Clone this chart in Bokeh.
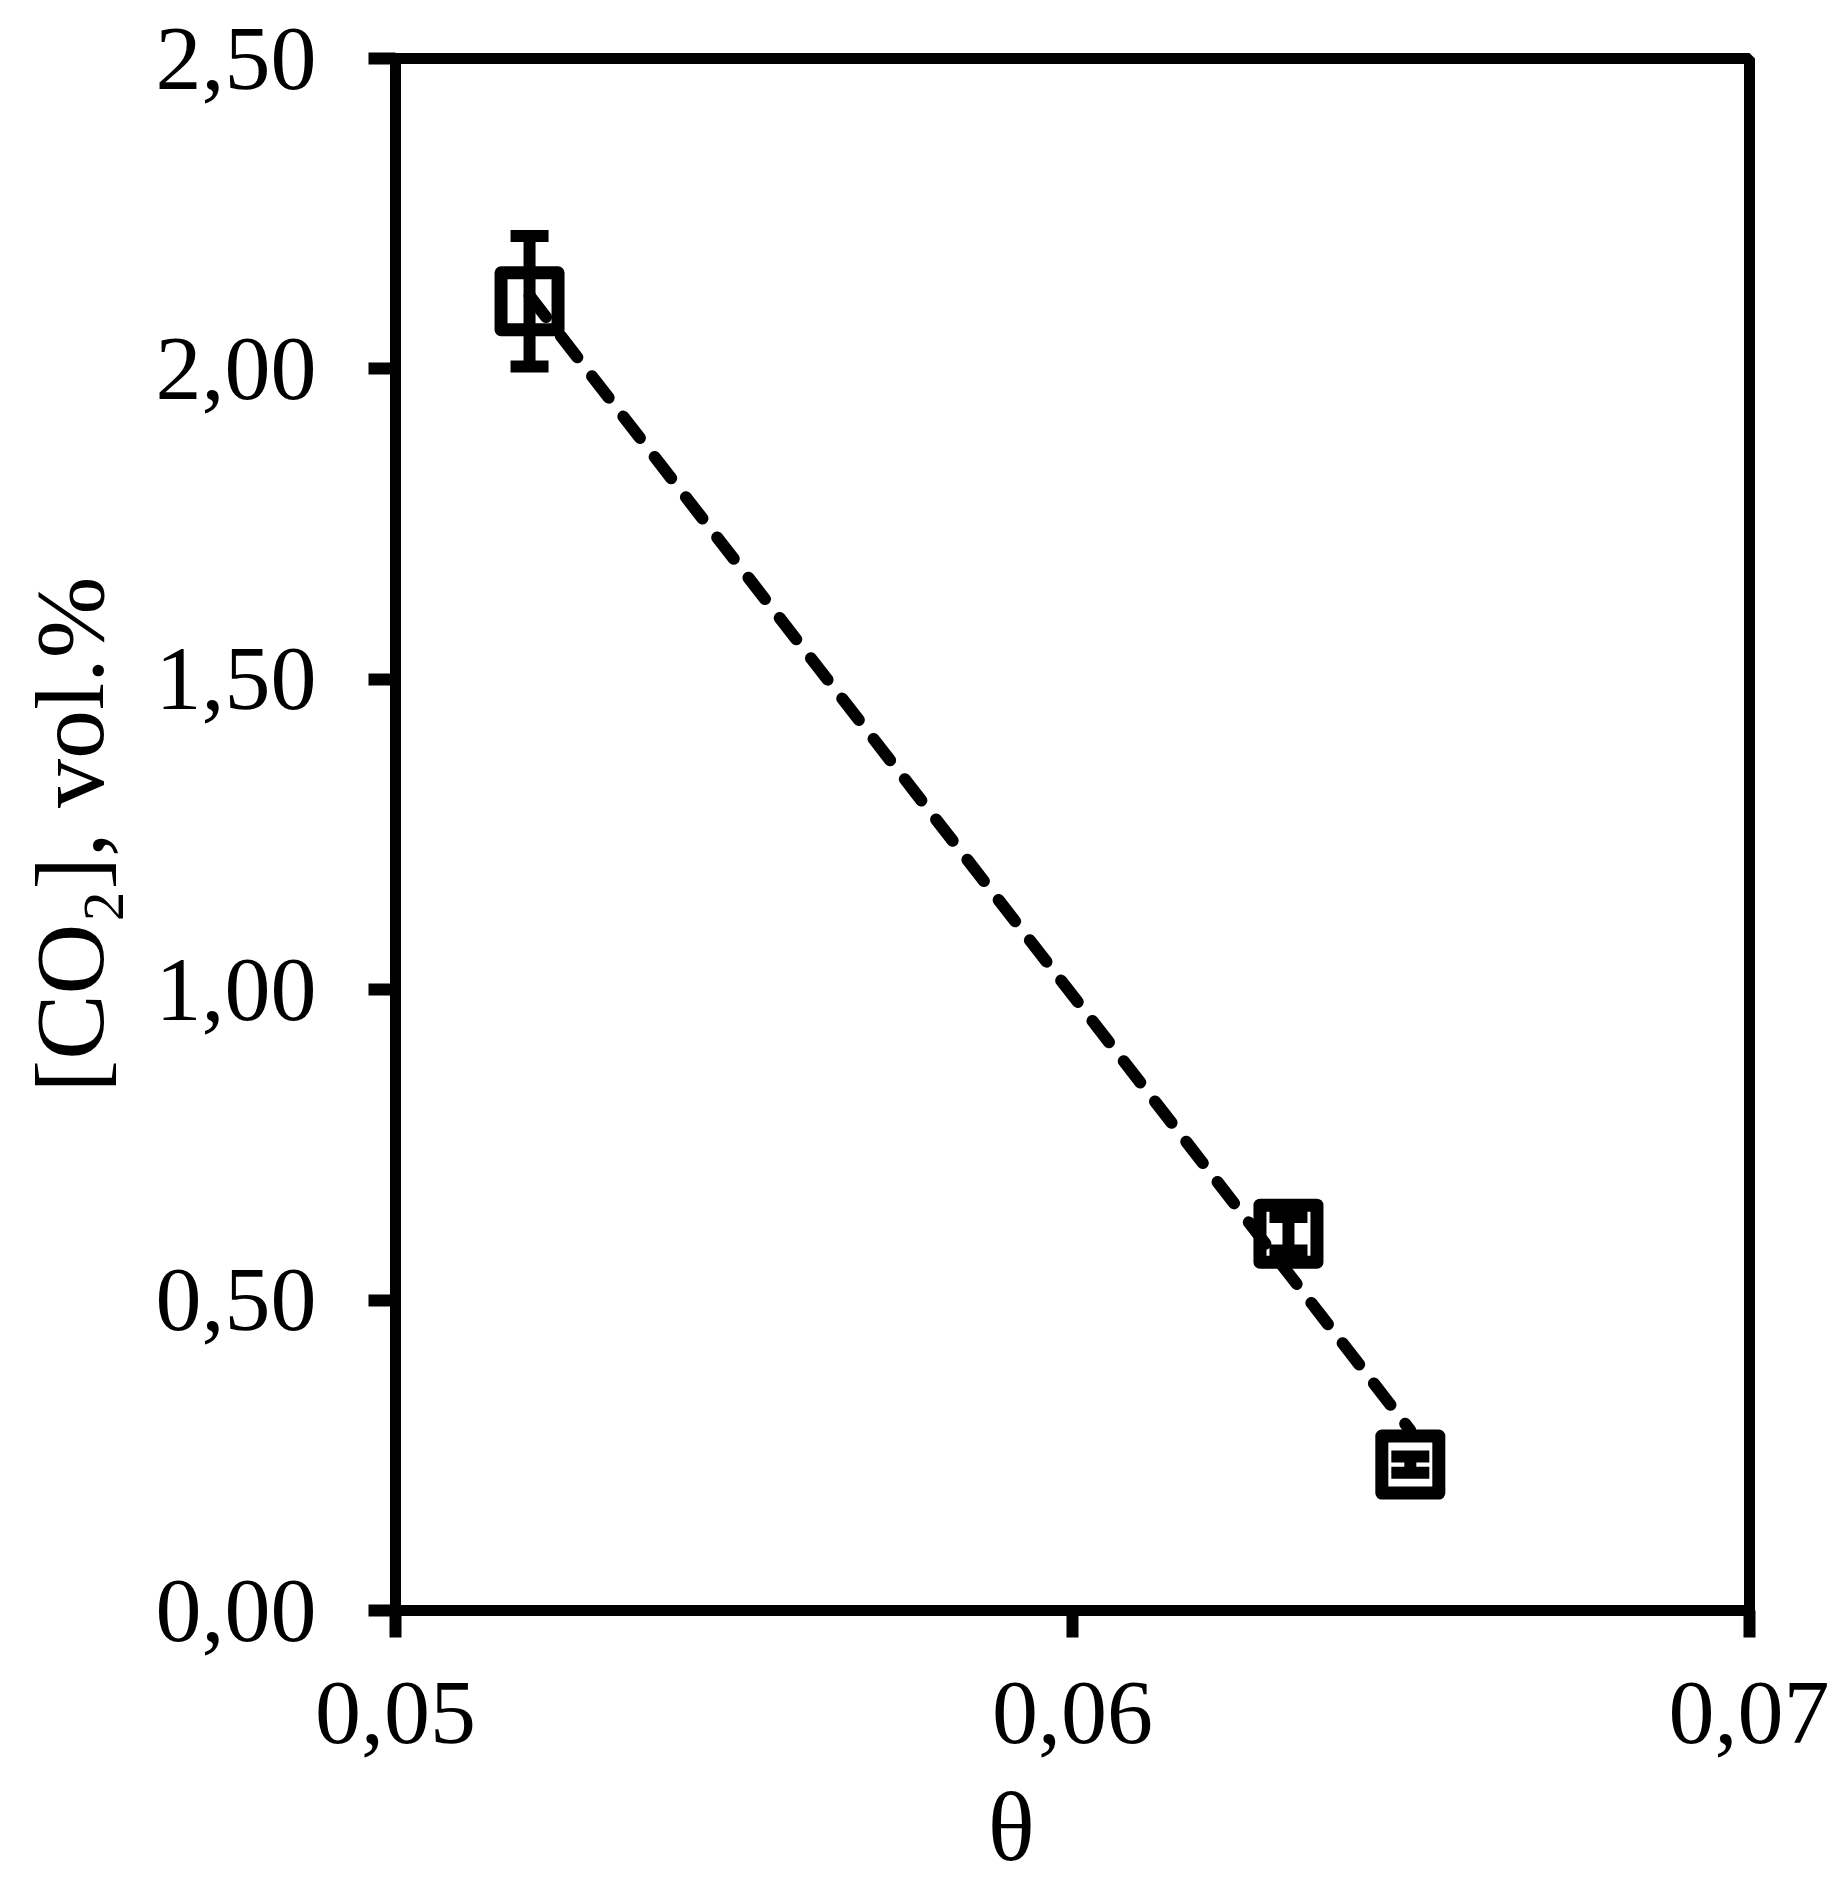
import numpy as np
from bokeh.plotting import figure
from bokeh.models import (ColumnDataSource, Whisker, TeeHead, FixedTicker,
                          CustomJSTickFormatter)
from bokeh.embed import file_html
from bokeh.resources import INLINE

# ---- data ----
theta = [0.05198, 0.06319, 0.06499]
co2 = [2.109, 0.607, 0.235]
co2_err = [0.105, 0.027, 0.013]

x_ticks = [0.05, 0.06, 0.07]
x_tick_labels = ["0,05", "0,06", "0,07"]
y_ticks = [0.0, 0.5, 1.0, 1.5, 2.0, 2.5]
y_tick_labels = ["0,00", "0,50", "1,00", "1,50", "2,00", "2,50"]

x_title = "θ"
y_title = "[CO₂], vol.%"

FONT = "Liberation Serif"

p = figure(frame_width=1354, frame_height=1552,
           x_range=(0.05, 0.07), y_range=(0.0, 2.5),
           min_border_left=395, min_border_top=58,
           min_border_right=80, min_border_bottom=262,
           output_backend="svg", toolbar_location=None,
           background_fill_color="white", border_fill_color="white")

p.grid.visible = False
p.outline_line_color = "black"
p.outline_line_width = 11

def fmt(vals, labels):
    return CustomJSTickFormatter(args=dict(vals=vals, labels=labels), code="""
        for (let i = 0; i < vals.length; i++) {
            if (Math.abs(vals[i] - tick) < 1e-9) return labels[i];
        }
        return "";
    """)

for ax, ticks, labels, standoff in ((p.xaxis[0], x_ticks, x_tick_labels, 45),
                                    (p.yaxis[0], y_ticks, y_tick_labels, 52)):
    ax.ticker = FixedTicker(ticks=ticks)
    ax.formatter = fmt(ticks, labels)
    ax.axis_line_width = 11
    ax.axis_line_color = "black"
    ax.major_tick_line_width = 12
    ax.major_tick_line_color = "black"
    ax.major_tick_out = 27
    ax.major_tick_in = 0
    ax.minor_tick_line_color = None
    ax.major_label_text_font = FONT
    ax.major_label_text_font_size = "92px"
    ax.major_label_text_color = "black"
    ax.major_label_standoff = standoff
    ax.axis_label_text_font = FONT
    ax.axis_label_text_font_size = "98px"
    ax.axis_label_text_font_style = "normal"
    ax.axis_label_text_color = "black"

# x title sits left of centre in the original: pad with no-break spaces
p.xaxis[0].axis_label = x_title + "\u00a0" * 5
p.xaxis[0].axis_label_standoff = 27
p.yaxis[0].axis_label = y_title
p.yaxis[0].axis_label_standoff = 29

src = ColumnDataSource(dict(x=theta, y=co2,
                            lower=[c - e for c, e in zip(co2, co2_err)],
                            upper=[c + e for c, e in zip(co2, co2_err)]))

# trend line (linear fit of the data)
k, b = np.polyfit(theta, co2, 1)
xl = [theta[0], theta[-1]]
yl = [k * xv + b for xv in xl]
p.line(xl, yl, line_color="black", line_width=12, line_dash="27 24",
       line_cap="round")

p.add_layout(Whisker(source=src, base="x", lower="lower", upper="upper",
                     dimension="height", line_width=12, line_color="black",
                     upper_head=TeeHead(size=38, line_width=12, line_color="black"),
                     lower_head=TeeHead(size=38, line_width=12, line_color="black")))

p.scatter("x", "y", source=src, marker="square", size=57,
          fill_color=None, line_color="black", line_width=13, line_join="round")

open("out.html", "w").write(file_html(p, INLINE))
